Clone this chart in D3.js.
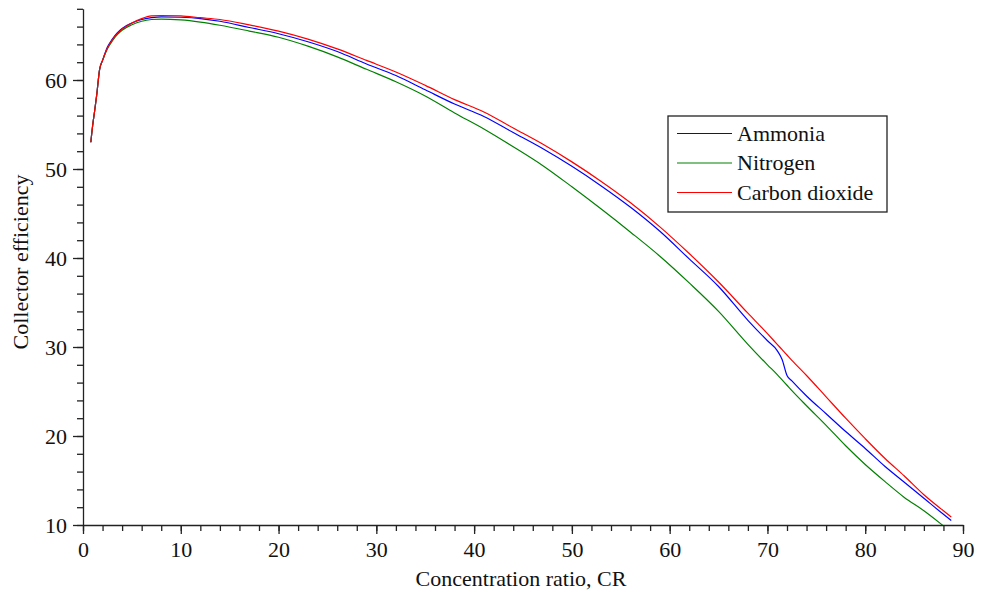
<!DOCTYPE html>
<html>
<head>
<meta charset="utf-8">
<script src="https://cdn.jsdelivr.net/npm/d3@7"></script>
<style>
  body { margin: 0; background: #fff; }
  svg { display: block; }
  text { font-family: "Liberation Serif", "Times New Roman", serif; fill: #111; }
</style>
</head>
<body>
<div id="chart"></div>
<script>
// concentration ratio samples
const cr = [0.8, 1.0, 1.2, 1.4, 1.7, 2.0, 2.5, 3.0, 3.5, 4, 5, 6, 7, 8, 10, 12, 14, 17, 20, 23, 26, 29, 32, 35, 38, 41, 44, 47, 50, 53, 56, 59, 62, 65, 68, 70, 71, 71.5, 72, 72.5, 74, 76, 78, 80, 82, 84, 86, 88, 88.8];

// collector efficiency per working fluid
const ammonia = [53.0, 55.0, 56.6, 58.3, 61.2, 62.2, 63.7, 64.6, 65.3, 65.8, 66.4, 66.8, 67.0, 67.1, 67.05, 66.9, 66.6, 65.9, 65.2, 64.3, 63.2, 61.8, 60.5, 58.9, 57.3, 55.9, 54.1, 52.3, 50.3, 48.1, 45.7, 43.0, 39.9, 36.8, 33.0, 30.7, 29.6, 28.6, 26.8, 26.2, 24.5, 22.5, 20.5, 18.6, 16.6, 14.8, 13.0, 11.2, 10.5];
const nitrogen = [53.0, 55.0, 56.6, 58.3, 61.2, 62.2, 63.5, 64.4, 65.1, 65.6, 66.2, 66.6, 66.8, 66.85, 66.75, 66.5, 66.15, 65.5, 64.8, 63.8, 62.6, 61.2, 59.8, 58.2, 56.3, 54.5, 52.5, 50.4, 48.0, 45.5, 42.9, 40.2, 37.2, 34.0, 30.3, 28.0, 26.9, 26.3, 25.7, 25.1, 23.4, 21.2, 18.9, 16.8, 14.9, 13.1, 11.6, 9.9, 9.2];
const co2 = [53.0, 55.0, 56.6, 58.3, 61.2, 62.2, 63.6, 64.5, 65.2, 65.7, 66.4, 66.9, 67.2, 67.25, 67.2, 67.0, 66.8, 66.2, 65.5, 64.6, 63.5, 62.2, 60.9, 59.4, 57.8, 56.4, 54.6, 52.8, 50.8, 48.6, 46.2, 43.5, 40.5, 37.3, 33.8, 31.5, 30.3, 29.7, 29.1, 28.5, 26.8, 24.4, 22.0, 19.7, 17.5, 15.5, 13.4, 11.6, 10.9];

const seriesNames = ["Ammonia", "Nitrogen", "Carbon dioxide"];
const seriesColors = ["#0000ff", "#008000", "#ff0000"];
const seriesValues = [ammonia, nitrogen, co2];

const xTicks = [0, 10, 20, 30, 40, 50, 60, 70, 80, 90];
const yTicks = [10, 20, 30, 40, 50, 60];

const svg_width = 981, svg_height = 597;
const margin = {top: 9, right: 18, bottom: 72, left: 83};

const x = d3.scaleLinear().domain([0, 90]).range([margin.left, svg_width - margin.right]);
const y = d3.scaleLinear().domain([10, 68]).range([525, 8.8]);

const svg = d3.select("#chart")
    .append("svg")
    .attr("width", svg_width)
    .attr("height", svg_height);

svg.append("defs").append("clipPath")
    .attr("id", "plot-clip")
    .append("rect")
    .attr("x", x(0)).attr("y", y(68) - 2)
    .attr("width", x(90) - x(0)).attr("height", y(10) - y(68) + 2);

// minor ticks (every 2 units)
svg.append("g")
    .attr("transform", `translate(0,${y(10)})`)
    .call(d3.axisBottom(x).tickValues(d3.range(0, 91, 2)).tickSize(6).tickFormat(""))
    .call(g => g.select(".domain").remove());
svg.append("g")
    .attr("transform", `translate(${x(0)},0)`)
    .call(d3.axisLeft(y).tickValues(d3.range(10, 69, 2)).tickSize(6).tickFormat(""))
    .call(g => g.select(".domain").remove());

// major ticks + labels
const xAxis = svg.append("g")
    .attr("transform", `translate(0,${y(10)})`)
    .call(d3.axisBottom(x).tickValues(xTicks).tickSize(9).tickSizeOuter(0).tickPadding(7));
const yAxis = svg.append("g")
    .attr("transform", `translate(${x(0)},0)`)
    .call(d3.axisLeft(y).tickValues(yTicks).tickSize(10).tickSizeOuter(0).tickPadding(6));

svg.selectAll(".tick line").attr("stroke", "#222").attr("stroke-width", 1.3);
svg.selectAll(".domain").attr("stroke", "#222").attr("stroke-width", 1.3);
svg.selectAll(".tick text")
    .style("font-family", '"Liberation Serif", "Times New Roman", serif')
    .style("font-size", "22px")
    .attr("fill", "#111");

// curves
const line = d3.line()
    .x((d, i) => x(cr[i]))
    .y(d => y(d))
    .curve(d3.curveMonotoneX);

svg.append("g")
    .attr("clip-path", "url(#plot-clip)")
    .attr("fill", "none")
    .attr("stroke-width", 1.2)
    .selectAll("path")
    .data(seriesValues)
    .join("path")
        .attr("stroke", (d, i) => seriesColors[i])
        .attr("d", line);

// axis titles
svg.append("text")
    .attr("x", (x(0) + x(90)) / 2 - 2)
    .attr("y", 586)
    .attr("text-anchor", "middle")
    .style("font-size", "22px")
    .text("Concentration ratio, CR");

svg.append("text")
    .attr("transform", "translate(28,262) rotate(-90)")
    .attr("text-anchor", "middle")
    .style("font-size", "22px")
    .text("Collector efficiency");

// legend
const legend = svg.append("g").attr("transform", "translate(668,116)");
legend.append("rect")
    .attr("width", 219).attr("height", 96)
    .attr("fill", "#fff").attr("stroke", "#222").attr("stroke-width", 1.3);

const item = legend.selectAll("g.item")
    .data(seriesNames)
    .join("g")
        .attr("class", "item")
        .attr("transform", (d, i) => `translate(0,${17.5 + i * 29.5})`);
item.append("line")
    .attr("x1", 9).attr("x2", 64)
    .attr("stroke", (d, i) => seriesColors[i])
    .attr("stroke-width", 1.2);
item.append("text")
    .attr("x", 69).attr("y", 7)
    .style("font-size", "22px")
    .text(d => d);
</script>
</body>
</html>
